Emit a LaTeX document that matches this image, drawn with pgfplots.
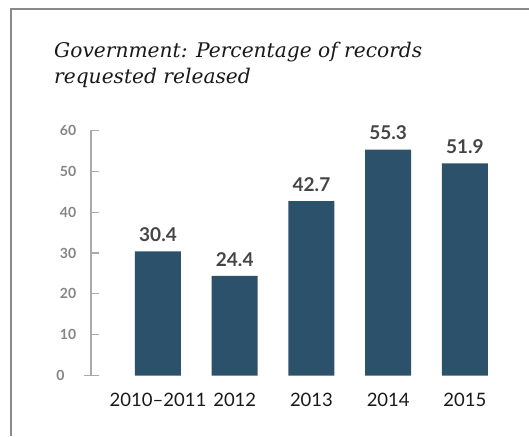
\documentclass[border=0pt]{standalone}
\usepackage{pgfplots}
\pgfplotsset{compat=1.18}
\usepackage{fontspec}
\setmainfont{Lato}
\newfontfamily\titlefont{DejaVu Serif}
\definecolor{barblue}{HTML}{2C526B}
\definecolor{framegray}{HTML}{8A8A8A}
\definecolor{tickgray}{HTML}{AAAAAA}
\definecolor{labgray}{HTML}{858585}
\definecolor{valgray}{HTML}{454545}
\begin{document}
\begin{tikzpicture}[x=1pt,y=1pt]
\useasboundingbox (0,0) rectangle (529,436);
\draw[framegray, line width=1.5pt] (10.8,0) -- (10.8,427.2) -- (529,427.2);
\node[anchor=base west, align=left, inner sep=0pt, font={\titlefont\itshape\fontsize{20.2}{26.5}\selectfont}, text=black!90] at (54,352) {Government: Percentage of records\\requested released};
\begin{axis}[
  at={(91pt,60.3pt)}, anchor=south west,
  scale only axis, width=420pt, height=245.4pt,
  xmin=-0.873, xmax=4.6, ymin=0, ymax=60,
  axis x line=none,
  axis y line*=left,
  y axis line style={tickgray, line width=1.1pt, -},
  ytick={10,20,30,40,50,60},
  extra y ticks={0},
  extra y tick style={tick align=center, major tick length=15pt},
  tick align=inside, major tick length=8pt,
  ytick style={tickgray, line width=1.1pt},
  yticklabel style={anchor=center, xshift=-23pt, font=\bfseries\fontsize{14}{14}\selectfont, text=labgray},
  /pgf/number format/assume math mode=true,
  clip=false,
]
\addplot[ybar, bar width=46pt, fill=barblue, draw=none,
  nodes near coords, nodes near coords style={anchor=south, yshift=6pt, font=\bfseries\fontsize{19}{19}\selectfont, text=valgray},
  point meta=explicit symbolic]
  coordinates {(0,30.4)[30.4] (1,24.4)[24.4] (2,42.7)[42.7] (3,55.3)[55.3] (4,51.9)[51.9]};
\end{axis}
\begin{axis}[
  at={(91pt,60.3pt)}, anchor=south west,
  scale only axis, width=420pt, height=245.4pt,
  xmin=-0.873, xmax=4.6, ymin=0, ymax=60,
  hide y axis, axis x line*=bottom,
  x axis line style={draw=none},
  xtick={0,1,2,3,4}, xtick style={draw=none},
  xticklabels={2010--2011,2012,2013,2014,2015},
  xticklabel style={anchor=base, yshift=-31pt, font=\fontsize{18.5}{18.5}\selectfont, text=black!90},
]
\addplot[draw=none] coordinates {(0,0)};
\end{axis}
\end{tikzpicture}
\end{document}
